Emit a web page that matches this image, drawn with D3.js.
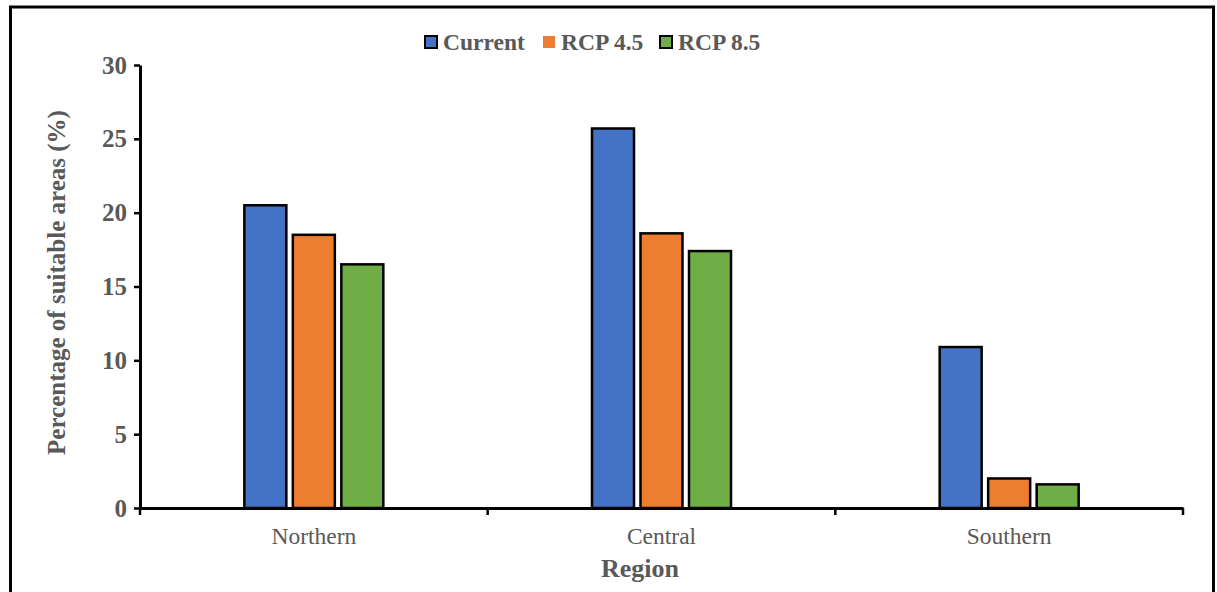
<!DOCTYPE html>
<html>
<head>
<meta charset="utf-8">
<script src="https://cdn.jsdelivr.net/npm/d3@7"></script>
<style>
  body { margin: 0; background: #fff; }
  svg { display: block; }
  svg text { font-family: "Times New Roman", "Liberation Serif", Tinos, serif !important; fill: #595959; }
</style>
</head>
<body>
<div id="chart"></div>
<script>
// chart values
var regions = ["Northern", "Central", "Southern"];
var seriesNames = ["Current", "RCP 4.5", "RCP 8.5"];
var current = [20.5, 25.7, 10.9];
var rcp45 = [18.5, 18.6, 2.0];
var rcp85 = [16.5, 17.4, 1.6];
var yTicks = [0, 5, 10, 15, 20, 25, 30];
var colors = ["#4472c4", "#ed7d31", "#70ad47"];

var fontFamily = "'Times New Roman', 'Liberation Serif', serif";
var width = 1217, height = 592;
var margin = { left: 140, right: 34, top: 65, bottom: 84 };

var svg = d3.select("#chart").append("svg")
    .attr("width", width)
    .attr("height", height)
    .attr("font-family", fontFamily);

// outer frame
svg.append("rect")
    .attr("x", 10.5)
    .attr("y", 7)
    .attr("width", 1203)
    .attr("height", 600)
    .attr("fill", "none")
    .attr("stroke", "#000")
    .attr("stroke-width", 3);

var x = d3.scaleBand()
    .domain(regions)
    .range([margin.left, width - margin.right]);

var y = d3.scaleLinear()
    .domain([0, 30])
    .range([height - margin.bottom, margin.top]);

var series = [current, rcp45, rcp85];
var barWidth = 42, barStep = 48.5;

// bars
series.forEach(function(values, s) {
    svg.selectAll(".bar-" + s)
        .data(values)
        .enter().append("rect")
        .attr("class", "bar-" + s)
        .attr("x", (d, i) => x(regions[i]) + x.bandwidth() / 2 + (s - 1) * barStep - barWidth / 2)
        .attr("y", d => y(d))
        .attr("width", barWidth)
        .attr("height", d => y(0) - y(d))
        .attr("fill", colors[s])
        .attr("stroke", "#000")
        .attr("stroke-width", 2.5);
});

// y axis
var yAxis = svg.append("g")
    .attr("transform", `translate(${margin.left},0)`)
    .call(d3.axisLeft(y).tickValues(yTicks).tickSize(6).tickSizeOuter(0).tickPadding(7));
yAxis.attr("font-family", fontFamily);
yAxis.select(".domain").attr("stroke", "#000").attr("stroke-width", 3);
yAxis.selectAll(".tick line").attr("stroke", "#000").attr("stroke-width", 2.5);
yAxis.selectAll(".tick text")
    .style("font-size", "25px")
    .style("font-weight", "bold")
    .attr("fill", "#595959");

// x axis
var xAxis = svg.append("g")
    .attr("transform", `translate(0,${y(0)})`)
    .call(d3.axisBottom(x).tickSize(0).tickPadding(19));
xAxis.attr("font-family", fontFamily);
xAxis.select(".domain").attr("stroke", "#000").attr("stroke-width", 3);
xAxis.selectAll(".tick text")
    .style("font-size", "23.5px")
    .attr("fill", "#595959");

// x ticks at band edges
var edges = regions.map(r => x(r)).concat([x.range()[1]]);
svg.selectAll(".edge-tick")
    .data(edges)
    .enter().append("line")
    .attr("x1", d => d)
    .attr("x2", d => d)
    .attr("y1", y(0))
    .attr("y2", y(0) + 7)
    .attr("stroke", "#000")
    .attr("stroke-width", 2.5);

// axis titles
svg.append("text")
    .attr("x", 640)
    .attr("y", 577)
    .attr("text-anchor", "middle")
    .style("font-size", "26px")
    .style("font-weight", "bold")
    .text("Region");

svg.append("text")
    .attr("transform", `translate(65,${(y(0) + y(30)) / 2 - 4}) rotate(-90)`)
    .attr("text-anchor", "middle")
    .style("font-size", "25px")
    .style("font-weight", "bold")
    .text("Percentage of suitable areas (%)");

// legend
var legendX = [425, 543, 660];
var legend = svg.selectAll(".legend")
    .data(seriesNames)
    .enter().append("g")
    .attr("class", "legend")
    .attr("transform", (d, i) => `translate(${legendX[i]},42)`);

legend.append("rect")
    .attr("x", 0)
    .attr("y", -6)
    .attr("width", 12)
    .attr("height", 12)
    .attr("fill", (d, i) => colors[i])
    .attr("stroke", (d, i) => i === 1 ? "none" : "#000")
    .attr("stroke-width", 2);

legend.append("text")
    .attr("x", 18)
    .attr("y", 8)
    .style("font-size", "23.5px")
    .style("font-weight", "bold")
    .text(d => d);
</script>
</body>
</html>
